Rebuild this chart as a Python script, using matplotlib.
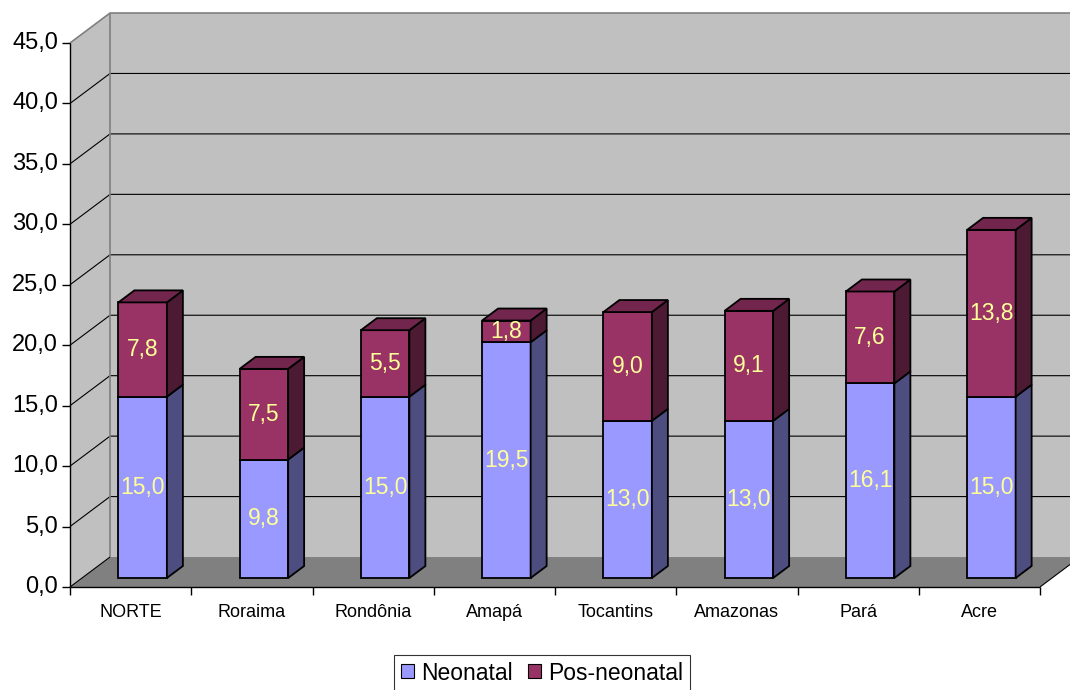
import matplotlib.pyplot as plt
from matplotlib.patches import Polygon, Patch

plt.rcParams['font.family'] = ['Liberation Sans', 'DejaVu Sans']

categories = ['NORTE', 'Roraima', 'Rondônia', 'Amapá', 'Tocantins',
              'Amazonas', 'Pará', 'Acre']
neonatal = [15.0, 9.8, 15.0, 19.5, 13.0, 13.0, 16.1, 15.0]
pos_neonatal = [7.8, 7.5, 5.5, 1.8, 9.0, 9.1, 7.6, 13.8]
yticks = [0, 5, 10, 15, 20, 25, 30, 35, 40, 45]

# colours (front, side, top)
neo_col = ('#9999FF', '#4D4D80', '#7A7ACC')
pos_col = ('#993366', '#4D1A33', '#73264D')
wall = '#C0C0C0'
floor = '#808080'

# 3d depth of the plot box, in data units
DX, DY = 0.33, 2.48
ymax = 45
n = len(categories)

fig = plt.figure(figsize=(10.7, 6.9), dpi=100)
ax = fig.add_axes([70 / 1070, 103 / 690, 970 / 1070, 544 / 690])
ax.set_xlim(0, n)
ax.set_ylim(0, ymax)
ax.axis('off')


def poly(pts, fc, ec='none', lw=0, z=1):
    ax.add_patch(Polygon(pts, closed=True, facecolor=fc, edgecolor=ec,
                         linewidth=lw, clip_on=False, zorder=z,
                         joinstyle='miter'))


def line(xs, ys, c='black', lw=0.8, z=2):
    ax.plot(xs, ys, color=c, lw=lw, clip_on=False, zorder=z,
            solid_capstyle='butt')


# walls and floor
poly([(DX, DY), (n + DX, DY), (n + DX, ymax + DY), (DX, ymax + DY)], wall)
poly([(0, 0), (DX, DY), (DX, ymax + DY), (0, ymax)], wall)
poly([(0, 0), (n, 0), (n + DX, DY), (DX, DY)], floor)

for v in yticks[1:-1]:
    line([0, DX, n + DX], [v, v + DY, v + DY], c='black', lw=0.8)
line([0, DX, n + DX], [ymax, ymax + DY, ymax + DY], c='#808080', lw=1.2)
line([DX, DX], [DY, ymax + DY], c='#808080', lw=1.2)
line([0, DX], [0, DY])
line([n, n + DX], [0, DY])

# axes
line([0, 0], [0, ymax], lw=1.0, z=3)
line([0, n], [0, 0], lw=1.0, z=3)
kx = 8 / 121.25
ky = 8 / 12.09
for v in yticks:
    line([-kx, 0], [v, v], lw=1.0, z=3)
    ax.text(-12 / 121.25, v, f'{v:.1f}'.replace('.', ','), ha='right',
            va='center', fontsize=17)
for i in range(n + 1):
    line([i, i], [0, -ky], lw=1.0, z=3)
for i, c in enumerate(categories):
    ax.text(i + 0.5, -26 / 12.09, c, ha='center', va='center', fontsize=13)

# bars
w = 0.4
fx, fy = 0.3 * DX, 0.3 * DY
bx, by = 0.4 * DX, 0.4 * DY


def block(x0, y0, y1, cols, top):
    x1 = x0 + w
    poly([(x0, y0), (x1, y0), (x1, y1), (x0, y1)], cols[0], 'black', 1.3, 5)
    poly([(x1, y0), (x1 + bx, y0 + by), (x1 + bx, y1 + by), (x1, y1)],
         cols[1], 'black', 1.3, 5)
    if top:
        poly([(x0, y1), (x1, y1), (x1 + bx, y1 + by), (x0 + bx, y1 + by)],
             cols[2], 'black', 1.3, 5)


for i, (a, b) in enumerate(zip(neonatal, pos_neonatal)):
    x0 = i + 0.3 + fx
    block(x0, fy, a + fy, neo_col, False)
    block(x0, a + fy, a + b + fy, pos_col, True)
    for lo, val in ((0, a), (a, b)):
        ax.text(x0 + w / 2, lo + val / 2 + fy, f'{val:.1f}'.replace('.', ','),
                ha='center', va='center', color='#FFFF99', fontsize=16.5,
                zorder=6)

handles = [Patch(facecolor=neo_col[0], edgecolor='black', lw=0.8),
           Patch(facecolor=pos_col[0], edgecolor='black', lw=0.8)]
leg = fig.legend(handles, ['Neonatal', 'Pos-neonatal'], loc='center',
                 bbox_to_anchor=(542 / 1070, 1 - 673 / 690), ncol=2,
                 fontsize=16.5, frameon=True, fancybox=False,
                 edgecolor='black', handlelength=0.55, handleheight=0.55,
                 handletextpad=0.3, columnspacing=0.7, borderpad=0.3)
leg.get_frame().set_linewidth(0.8)

fig.savefig('out.png', dpi=100)
